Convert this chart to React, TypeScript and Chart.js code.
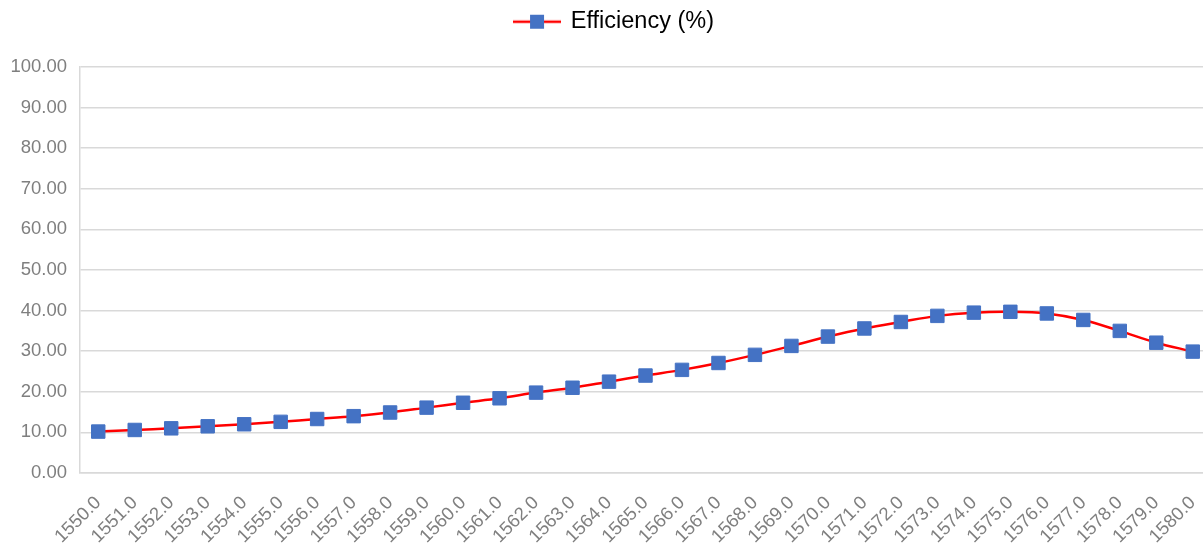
import React, { useEffect, useRef } from "react";
import { Chart, registerables } from "chart.js";

Chart.register(...registerables);

const wavelengths: string[] = [
  "1550.0", "1551.0", "1552.0", "1553.0", "1554.0", "1555.0", "1556.0", "1557.0",
  "1558.0", "1559.0", "1560.0", "1561.0", "1562.0", "1563.0", "1564.0", "1565.0",
  "1566.0", "1567.0", "1568.0", "1569.0", "1570.0", "1571.0", "1572.0", "1573.0",
  "1574.0", "1575.0", "1576.0", "1577.0", "1578.0", "1579.0", "1580.0",
];

const efficiency: number[] = [
  10.2, 10.6, 11.0, 11.5, 12.0, 12.6, 13.3, 14.0, 14.9, 16.1, 17.3, 18.4,
  19.8, 21.0, 22.5, 24.0, 25.4, 27.1, 29.1, 31.3, 33.6, 35.6, 37.2, 38.7,
  39.5, 39.7, 39.3, 37.7, 35.0, 32.1, 29.9,
];

const seriesName = "Efficiency (%)";
const yMin = 0;
const yMax = 100;
const yStep = 10;

const LINE_COLOR = "#FF0000";
const MARKER_COLOR = "#4472C4";
const GRID_COLOR = "#d9d9d9";
const TICK_COLOR = "#7f7f7f";
const FONT_FAMILY = "'Liberation Sans', Arial, Helvetica, sans-serif";

function makeLegendIcon(): HTMLCanvasElement {
  const c = document.createElement("canvas");
  c.width = 48;
  c.height = 16;
  const ctx = c.getContext("2d")!;
  ctx.strokeStyle = LINE_COLOR;
  ctx.lineWidth = 2.5;
  ctx.beginPath();
  ctx.moveTo(0, 8);
  ctx.lineTo(48, 8);
  ctx.stroke();
  ctx.fillStyle = MARKER_COLOR;
  ctx.fillRect(24 - 7, 8 - 7, 14, 14);
  return c;
}

export default function App() {
  const canvasRef = useRef<HTMLCanvasElement | null>(null);

  useEffect(() => {
    if (!canvasRef.current) return;
    const icon = makeLegendIcon();
    const chart = new Chart(canvasRef.current, {
      type: "line",
      data: {
        labels: wavelengths,
        datasets: [
          {
            label: seriesName,
            data: efficiency,
            borderColor: LINE_COLOR,
            borderWidth: 2.5,
            backgroundColor: MARKER_COLOR,
            pointStyle: "rect",
            pointRadius: 9.5,
            pointBackgroundColor: MARKER_COLOR,
            pointBorderColor: MARKER_COLOR,
            pointBorderWidth: 1,
            tension: 0.35,
            fill: false,
            yAxisID: "y",
          },
        ],
      },
      options: {
        responsive: false,
        animation: false,
        layout: { padding: { left: 0, right: 0, top: 0, bottom: 0 } },
        plugins: {
          legend: {
            display: true,
            position: "top",
            labels: {
              usePointStyle: true,
              pointStyleWidth: 44,
              padding: 10,
              color: "#000000",
              font: { family: FONT_FAMILY, size: 23.5 },
              generateLabels: () => [
                {
                  text: seriesName,
                  pointStyle: icon as any,
                  fillStyle: MARKER_COLOR,
                  strokeStyle: LINE_COLOR,
                  lineWidth: 0,
                  hidden: false,
                  datasetIndex: 0,
                  fontColor: "#000000",
                } as any,
              ],
            },
          },
          subtitle: {
            display: true,
            text: "",
            weight: 500,
            font: { size: 10 },
            padding: { top: 0, bottom: 11.5 },
          } as any,
          tooltip: { enabled: false },
        },
        scales: {
          x: {
            offset: true,
            grid: { display: false },
            border: { display: true, color: GRID_COLOR, width: 1.5 },
            ticks: {
              autoSkip: false,
              maxRotation: 45,
              minRotation: 45,
              color: TICK_COLOR,
              padding: 11,
              font: { family: FONT_FAMILY, size: 18.5 },
            },
            afterFit: (scale: any) => {
              scale.height = 74;
            },
          },
          y: {
            min: yMin,
            max: yMax,
            position: "left",
            grid: { color: GRID_COLOR, lineWidth: 1.5, drawTicks: false },
            border: { display: true, color: GRID_COLOR, width: 1.5 },
            ticks: {
              stepSize: yStep,
              padding: 13,
              color: TICK_COLOR,
              font: { family: FONT_FAMILY, size: 18.5 },
              callback: (v: any) => Number(v).toFixed(2),
            },
            afterFit: (scale: any) => {
              scale.width = 80;
            },
          },
          yRightSpace: {
            type: "linear",
            position: "right",
            display: true,
            grid: { display: false, drawTicks: false },
            border: { display: false },
            ticks: { display: false },
            afterFit: (scale: any) => {
              scale.width = 18;
            },
          } as any,
        },
      },
    });
    return () => chart.destroy();
  }, []);

  return (
    <div
      style={{
        position: "absolute",
        left: 0,
        top: 0,
        width: 1203,
        height: 547,
        overflow: "hidden",
        background: "#ffffff",
      }}
    >
      <canvas ref={canvasRef} width={1229} height={547} style={{ display: "block" }} />
    </div>
  );
}
